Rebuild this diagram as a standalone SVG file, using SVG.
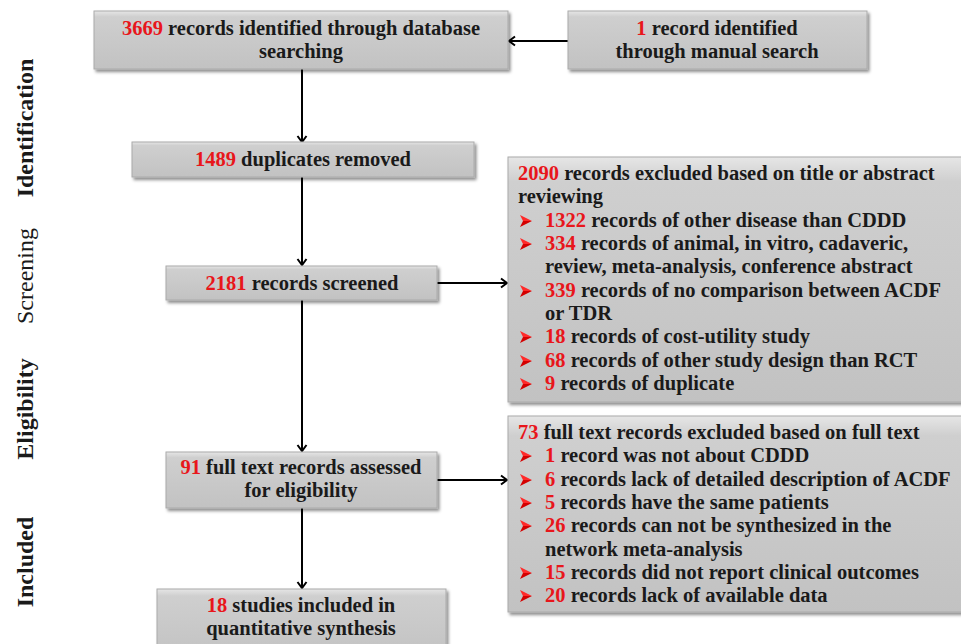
<svg xmlns="http://www.w3.org/2000/svg" width="961" height="644" viewBox="0 0 961 644">
<defs>
<linearGradient id="g" x1="0" y1="0" x2="0" y2="1">
<stop offset="0" stop-color="#e6e6e6"/>
<stop offset="0.1" stop-color="#cfcfcf"/>
<stop offset="1" stop-color="#c2c2c2"/>
</linearGradient>
<filter id="sh" x="-5%" y="-10%" width="115%" height="130%">
<feDropShadow dx="2" dy="2.5" stdDeviation="1.5" flood-color="#000" flood-opacity="0.45"/>
</filter>
<marker id="ah" markerWidth="12" markerHeight="12" refX="9" refY="6" orient="auto" markerUnits="userSpaceOnUse">
<path d="M3,1.5 L9,6 L3,10.5" fill="none" stroke="#000" stroke-width="2"/>
</marker>
<symbol id="bul" viewBox="0 0 12 12" width="12" height="12">
<polygon points="0,0 12,6 3,6" fill="#ff2a2a"/>
<polygon points="0,12 12,6 3,6" fill="#d40000"/>
</symbol>
</defs>
<style>
.box{fill:url(#g);stroke:#aaaaaa;stroke-width:1;filter:url(#sh)}
.t{font-family:"Liberation Serif","Times New Roman",serif;font-weight:bold;font-size:20.5px;fill:#1a1a1a}
.c{text-anchor:middle}
.r{fill:#e8161b}
.side{font-family:"Liberation Serif","Times New Roman",serif;font-size:24px;fill:#1a1a1a;text-anchor:middle}
.con{stroke:#000;stroke-width:2;fill:none;marker-end:url(#ah)}
</style>

<g id="side-labels">
<text class="side" font-weight="bold" transform="translate(33,128) rotate(-90)">Identification</text>
<text class="side" transform="translate(33,276) rotate(-90)">Screening</text>
<text class="side" font-weight="bold" transform="translate(33,409) rotate(-90)">Eligibility</text>
<text class="side" font-weight="bold" transform="translate(33,562) rotate(-90)">Included</text>
</g>

<g id="connectors">
<line class="con" x1="568" y1="41" x2="509" y2="41"/>
<line class="con" x1="302" y1="69" x2="302" y2="142"/>
<line class="con" x1="302" y1="177" x2="302" y2="265"/>
<line class="con" x1="437" y1="283" x2="507" y2="283"/>
<line class="con" x1="302" y1="300" x2="302" y2="451"/>
<line class="con" x1="437" y1="480" x2="507" y2="480"/>
<line class="con" x1="302" y1="508" x2="302" y2="588"/>
</g>

<g id="n-database">
<rect class="box" x="94" y="11" width="414" height="58"/>
<text class="t c" x="301" y="35"><tspan class="r">3669</tspan> records identified through database</text>
<text class="t c" x="301" y="58">searching</text>
</g>

<g id="n-manual">
<rect class="box" x="568" y="11" width="299" height="58"/>
<text class="t c" x="717" y="35"><tspan class="r">1</tspan> record identified</text>
<text class="t c" x="717" y="58">through manual search</text>
</g>

<g id="n-duplicates">
<rect class="box" x="132" y="142" width="342" height="35"/>
<text class="t c" x="303" y="166"><tspan class="r">1489</tspan> duplicates removed</text>
</g>

<g id="n-screened">
<rect class="box" x="166" y="266" width="271" height="34"/>
<text class="t c" x="302" y="290"><tspan class="r">2181</tspan> records screened</text>
</g>

<g id="n-excluded1">
<rect class="box" x="508" y="157" width="460" height="245"/>
<text class="t" x="518" y="180"><tspan class="r">2090</tspan> records excluded based on title or abstract</text>
<text class="t" x="518" y="203">reviewing</text>
<use href="#bul" x="520" y="215"/>
<text class="t" x="545" y="227"><tspan class="r">1322</tspan> records of other disease than CDDD</text>
<use href="#bul" x="520" y="238"/>
<text class="t" x="545" y="250"><tspan class="r">334</tspan> records of animal, in vitro, cadaveric,</text>
<text class="t" x="545" y="273">review, meta-analysis, conference abstract</text>
<use href="#bul" x="520" y="285"/>
<text class="t" x="545" y="297"><tspan class="r">339</tspan> records of no comparison between ACDF</text>
<text class="t" x="545" y="320">or TDR</text>
<use href="#bul" x="520" y="331"/>
<text class="t" x="545" y="343"><tspan class="r">18</tspan> records of cost-utility study</text>
<use href="#bul" x="520" y="355"/>
<text class="t" x="545" y="367"><tspan class="r">68</tspan> records of other study design than RCT</text>
<use href="#bul" x="520" y="378"/>
<text class="t" x="545" y="390"><tspan class="r">9</tspan> records of duplicate</text>
</g>

<g id="n-fulltext">
<rect class="box" x="166" y="452" width="271" height="56"/>
<text class="t c" x="301" y="474"><tspan class="r">91</tspan> full text records assessed</text>
<text class="t c" x="301" y="497">for eligibility</text>
</g>

<g id="n-excluded2">
<rect class="box" x="508" y="416" width="460" height="196"/>
<text class="t" x="518" y="439"><tspan class="r">73</tspan> full text records excluded based on full text</text>
<use href="#bul" x="520" y="450"/>
<text class="t" x="545" y="462"><tspan class="r">1</tspan> record was not about CDDD</text>
<use href="#bul" x="520" y="474"/>
<text class="t" x="545" y="486"><tspan class="r">6</tspan> records lack of detailed description of ACDF</text>
<use href="#bul" x="520" y="497"/>
<text class="t" x="545" y="509"><tspan class="r">5</tspan> records have the same patients</text>
<use href="#bul" x="520" y="520"/>
<text class="t" x="545" y="532"><tspan class="r">26</tspan> records can not be synthesized in the</text>
<text class="t" x="545" y="556">network meta-analysis</text>
<use href="#bul" x="520" y="567"/>
<text class="t" x="545" y="579"><tspan class="r">15</tspan> records did not report clinical outcomes</text>
<use href="#bul" x="520" y="590"/>
<text class="t" x="545" y="602"><tspan class="r">20</tspan> records lack of available data</text>
</g>

<g id="n-included">
<rect class="box" x="157" y="589" width="289" height="70"/>
<text class="t c" x="301" y="612"><tspan class="r">18</tspan> studies included in</text>
<text class="t c" x="301" y="635">quantitative synthesis</text>
</g>
</svg>
